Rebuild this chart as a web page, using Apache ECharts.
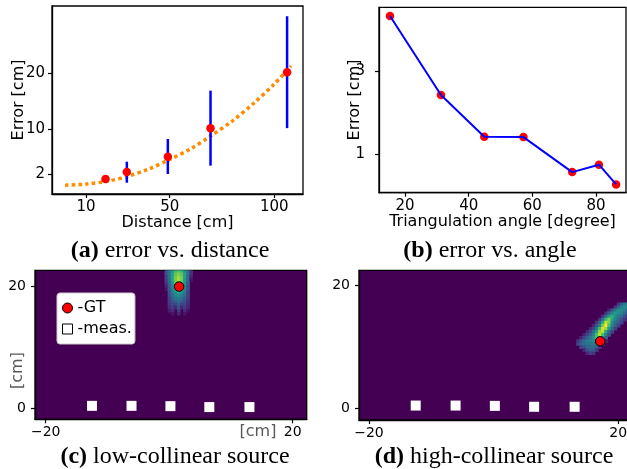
<!DOCTYPE html>
<html><head><meta charset="utf-8">
<script src="https://cdn.jsdelivr.net/npm/echarts@6/dist/echarts.min.js"></script>
<style>html,body{margin:0;padding:0;background:#fff}#c{width:627px;height:469px}</style>
</head><body><div id="c"></div>
<script>
// ---- (a) error vs. distance ----
const distX    = [19.3, 29.5, 49.1, 69.5, 106.1];
const distErr  = [1.1, 2.36, 5.1, 10.2, 20.2];
const distLow  = [0.8, 0.45, 2.0, 3.5, 10.2];
const distHigh = [1.4, 4.2, 8.26, 16.9, 30.2];
const fitX = [0, 10, 20, 30, 40, 50, 60, 70, 80, 90, 100, 108];
const fitY = [0, 0.2, 0.7, 1.6, 2.9, 4.6, 6.5, 8.9, 11.5, 14.6, 18.1, 21.3];
const aXTicks = [10, 50, 100];
const aYTicks = [2, 10, 20];
// ---- (b) error vs. angle ----
const angleX   = [15.3, 31.3, 44.9, 57.2, 72.5, 80.9, 86.3];
const angleErr = [4.35, 2.43, 1.42, 1.41, 0.56, 0.74, 0.26];
const bXTicks = [20, 40, 60, 80];
const bYTicks = [1, 3];
// ---- (c),(d) likelihood maps ----
const measX = [-12.5, -6.1, 0.2, 6.5, 13.0];
const measY = [0.4, 0.4, 0.35, 0.2, 0.2];
const gtC = [1.6, 19.9];
const gtD = [17.1, 10.9];
const mapXTicks = [-20, 20];
const mapYTicks = [0, 20];
const cCols = [-0.5, 0, 0.5, 1, 1.5, 2, 2.5, 3, 3.5];
const cRows = [22.5, 22, 21.5, 21, 20.5, 20, 19.5, 19, 18.5, 18, 17.5, 17, 16.5, 16, 15.5];
const cVals = [
  [0.25,0.4,0.55,0.68,0.72,0.68,0.55,0.4,0.15],
  [0.25,0.4,0.58,0.74,0.8,0.74,0.58,0.4,0.15],
  [0.2,0.38,0.58,0.78,0.85,0.78,0.58,0.35,0.1],
  [0.2,0.35,0.58,0.78,0.88,0.78,0.55,0.35,0.05],
  [0.15,0.33,0.52,0.74,0.85,0.74,0.52,0.3,0],
  [0.1,0.3,0.48,0.68,0.78,0.68,0.48,0.25,0],
  [0.05,0.28,0.45,0.6,0.7,0.6,0.45,0.25,0],
  [0,0.25,0.4,0.52,0.6,0.52,0.4,0.2,0],
  [0,0.22,0.35,0.45,0.5,0.45,0.35,0.2,0],
  [0,0.2,0.3,0.38,0.42,0.38,0.3,0.18,0],
  [0,0.18,0.25,0.3,0.35,0.3,0.25,0.15,0],
  [0,0.15,0.22,0.2,0.3,0.2,0.22,0.12,0],
  [0,0.12,0.18,0.1,0.25,0.1,0.18,0.1,0],
  [0,0.08,0.12,0,0.18,0,0.12,0.05,0],
  [0,0,0.06,0,0.1,0,0.06,0,0]
];
const dCols = [13.5, 14, 14.5, 15, 15.5, 16, 16.5, 17, 17.5, 18, 18.5, 19, 19.5, 20, 20.5, 21, 21.5];
const dRows = [17, 16.5, 16, 15.5, 15, 14.5, 14, 13.5, 13, 12.5, 12, 11.5, 11, 10.5, 10, 9.5, 9];
const dVals = [
  [0,0,0,0,0,0,0,0,0,0,0,0,0,0.15,0.3,0.4,0.45],
  [0,0,0,0,0,0,0,0,0,0,0,0,0.15,0.3,0.45,0.5,0.45],
  [0,0,0,0,0,0,0,0,0,0,0.1,0.25,0.4,0.5,0.5,0.45,0.35],
  [0,0,0,0,0,0,0,0,0,0.15,0.3,0.45,0.55,0.5,0.45,0.35,0.25],
  [0,0,0,0,0,0,0,0,0.15,0.35,0.55,0.65,0.5,0.4,0.35,0.25,0.15],
  [0,0,0,0,0,0,0,0.15,0.35,0.65,0.8,0.6,0.45,0.35,0.25,0.15,0],
  [0,0,0,0,0,0,0.15,0.3,0.6,0.9,0.8,0.5,0.35,0.3,0.2,0,0],
  [0,0,0,0,0,0.1,0.25,0.45,0.8,1.0,0.7,0.45,0.3,0.2,0,0,0],
  [0,0,0,0,0.1,0.2,0.4,0.7,0.95,0.85,0.55,0.35,0.2,0,0,0,0],
  [0,0,0,0.1,0.2,0.35,0.55,0.85,0.9,0.6,0.35,0.2,0,0,0,0,0],
  [0,0,0.1,0.2,0.3,0.45,0.7,0.9,0.7,0.45,0.25,0,0,0,0,0,0],
  [0,0.1,0.2,0.3,0.4,0.5,0.7,0.75,0.5,0.3,0,0,0,0,0,0,0],
  [0.15,0.25,0.35,0.4,0.45,0.5,0.55,0.5,0.3,0.1,0,0,0,0,0,0,0],
  [0.2,0.3,0.35,0.4,0.4,0.4,0.4,0.3,0.15,0,0,0,0,0,0,0,0],
  [0,0.2,0.25,0.35,0.35,0.35,0.3,0.15,0,0,0,0,0,0,0,0,0],
  [0,0,0.1,0.25,0.3,0.3,0.15,0,0,0,0,0,0,0,0,0,0],
  [0,0,0,0.1,0.2,0.15,0,0,0,0,0,0,0,0,0,0,0]
];

const FONT = 'DejaVu Sans';
const SERIF = 'Liberation Serif';
const viridis = ['#440154','#482878','#3e4989','#31688e','#26828e','#1f9e89','#35b779','#6ece58','#b5de2b','#fde725'];

function cells(cols, rows, vals) {
  const out = [];
  rows.forEach((y, i) => cols.forEach((x, j) => { if (vals[i][j] > 0) out.push([x, y, vals[i][j]]); }));
  return out;
}
function cellRender(params, api) {
  const x = api.value(0), y = api.value(1), h = 0.25;
  const a = api.coord([x - h, y + h]);
  const b = api.coord([x + h, y - h]);
  return { type: 'rect', shape: { x: a[0], y: a[1], width: b[0] - a[0] + 0.6, height: b[1] - a[1] + 0.6 },
           style: { fill: api.visual('color') } };
}
function errRender(params, api) {
  const x = api.value(0);
  const p1 = api.coord([x, api.value(1)]);
  const p2 = api.coord([x, api.value(2)]);
  return { type: 'line', shape: { x1: p1[0], y1: p1[1], x2: p2[0], y2: p2[1] },
           style: { stroke: '#0000ff', lineWidth: 2.5 } };
}
const minus = v => (v < 0 ? '\u2212' + Math.abs(v) : String(v));

function axis(o) {
  return {
    gridIndex: o.grid, type: 'value', min: o.min, max: o.max,
    axisLine: { show: true, onZero: false, lineStyle: { color: '#000', width: 1.3 } },
    splitLine: { show: false },
    axisTick: { show: true, inside: false, customValues: o.ticks, length: 4, lineStyle: { color: '#000', width: 1.2 } },
    axisLabel: { customValues: o.ticks, fontSize: o.fs, fontFamily: FONT, color: '#000', margin: o.margin, formatter: minus },
    name: o.name || '', nameLocation: 'middle', nameGap: o.gap || 0, nameRotate: o.rot,
    nameMoveOverlap: false,
    nameTextStyle: { fontSize: 16, fontFamily: FONT, color: '#000' }
  };
}
const gridBase = { show: true, borderColor: '#000', borderWidth: 1.3, outerBoundsMode: 'none', containLabel: false };

const chart = echarts.init(document.getElementById('c'), null, { renderer: 'canvas' });
chart.setOption({
  animation: false,
  backgroundColor: '#fff',
  grid: [
    Object.assign({ left: 52, top: 6, width: 251, height: 188, backgroundColor: 'transparent' }, gridBase),
    Object.assign({ left: 379, top: 7.3, width: 247, height: 185.4, backgroundColor: 'transparent' }, gridBase),
    Object.assign({ left: 35, top: 270.3, width: 271.7, height: 149, backgroundColor: '#440154' }, gridBase),
    Object.assign({ left: 359, top: 270.3, width: 273.4, height: 149.7, backgroundColor: '#440154' }, gridBase)
  ],
  xAxis: [
    axis({ grid: 0, min: -6.26, max: 113.7, ticks: aXTicks, fs: 15, margin: 6, name: 'Distance [cm]', gap: 21 }),
    axis({ grid: 1, min: 11.84, max: 89.4, ticks: bXTicks, fs: 15, margin: 6, name: 'Triangulation angle [degree]', gap: 21 }),
    axis({ grid: 2, min: -21.73, max: 22.27, ticks: mapXTicks, fs: 14, margin: 6 }),
    axis({ grid: 3, min: -21.6, max: 22.27, ticks: mapXTicks, fs: 14, margin: 6 })
  ],
  yAxis: [
    axis({ grid: 0, min: -1.57, max: 32.03, ticks: aYTicks, fs: 15, margin: 7, name: 'Error [cm]', gap: 25.5, rot: 90 }),
    axis({ grid: 1, min: 0.06, max: 4.56, ticks: bYTicks, fs: 15, margin: 14, name: 'Error [cm]', gap: 16, rot: 90 }),
    axis({ grid: 2, min: -1.8, max: 22.56, ticks: mapYTicks, fs: 14, margin: 9 }),
    axis({ grid: 3, min: -1.96, max: 22.5, ticks: mapYTicks, fs: 14, margin: 9 })
  ],
  visualMap: [{
    type: 'continuous', show: false, min: 0, max: 1, dimension: 2, seriesIndex: [5, 8],
    inRange: { color: viridis }
  }],
  legend: {
    left: 57, top: 293, orient: 'vertical', selectedMode: false,
    backgroundColor: '#fff', borderColor: '#cccccc', borderWidth: 1, borderRadius: 3,
    padding: [7, 3, 7, 5], itemGap: 5, itemWidth: 10, itemHeight: 10,
    textStyle: { fontFamily: FONT, fontSize: 16, color: '#000' },
    data: [
      { name: '-GT', icon: 'circle', itemStyle: { color: '#ff0000', borderColor: '#000', borderWidth: 1 } },
      { name: '-meas.', icon: 'rect', itemStyle: { color: '#fff', borderColor: '#000', borderWidth: 1 } }
    ]
  },
  series: [
    // (a)
    { name: 'fit', type: 'line', xAxisIndex: 0, yAxisIndex: 0, smooth: 0.3, symbol: 'none', silent: true, z: 2,
      data: fitX.map((x, i) => [x, fitY[i]]),
      lineStyle: { color: '#ff8c00', width: 3.5, type: [3.5, 3.2] } },
    { name: 'err', type: 'custom', xAxisIndex: 0, yAxisIndex: 0, silent: true, z: 3, renderItem: errRender,
      encode: { x: 0, y: [1, 2] },
      data: distX.map((x, i) => [x, distLow[i], distHigh[i]]) },
    { name: 'mean', type: 'scatter', xAxisIndex: 0, yAxisIndex: 0, silent: true, z: 4, symbolSize: 8.5,
      itemStyle: { color: '#ff0000', opacity: 1 },
      data: distX.map((x, i) => [x, distErr[i]]) },
    // (b)
    { name: 'angDots', type: 'scatter', xAxisIndex: 1, yAxisIndex: 1, silent: true, z: 3, symbolSize: 8.5,
      itemStyle: { color: '#ff0000', opacity: 1 },
      data: angleX.map((x, i) => [x, angleErr[i]]) },
    { name: 'angLine', type: 'line', xAxisIndex: 1, yAxisIndex: 1, silent: true, z: 4, symbol: 'none',
      lineStyle: { color: '#0000ff', width: 2 },
      data: angleX.map((x, i) => [x, angleErr[i]]) },
    // (c)
    { name: 'mapC', type: 'custom', xAxisIndex: 2, yAxisIndex: 2, silent: true, z: 2, clip: true,
      renderItem: cellRender, encode: { x: 0, y: 1 }, data: cells(cCols, cRows, cVals) },
    { name: '-meas.', type: 'scatter', xAxisIndex: 2, yAxisIndex: 2, silent: true, z: 3, symbol: 'rect', symbolSize: 10,
      itemStyle: { color: '#fff', opacity: 1 },
      data: measX.map((x, i) => [x, measY[i]]) },
    { name: '-GT', type: 'scatter', xAxisIndex: 2, yAxisIndex: 2, silent: true, z: 4, symbolSize: 9.5,
      itemStyle: { color: '#ff0000', borderColor: '#000', borderWidth: 1, opacity: 1 },
      data: [gtC] },
    // (d)
    { name: 'mapD', type: 'custom', xAxisIndex: 3, yAxisIndex: 3, silent: true, z: 2, clip: true,
      renderItem: cellRender, encode: { x: 0, y: 1 }, data: cells(dCols, dRows, dVals) },
    { name: 'measD', type: 'scatter', xAxisIndex: 3, yAxisIndex: 3, silent: true, z: 3, symbol: 'rect', symbolSize: 10,
      itemStyle: { color: '#fff', opacity: 1 },
      data: measX.map((x, i) => [x, measY[i]]) },
    { name: 'gtD', type: 'scatter', xAxisIndex: 3, yAxisIndex: 3, silent: true, z: 4, symbolSize: 9.5,
      itemStyle: { color: '#ff0000', borderColor: '#000', borderWidth: 1, opacity: 1 },
      data: [gtD] }
  ],
  graphic: [
    { type: 'text', x: 258, y: 432, silent: true,
      style: { text: '[cm]', fontFamily: FONT, fontSize: 16, fill: '#595959', align: 'center', verticalAlign: 'middle' } },
    { type: 'text', x: 18, y: 370.5, rotation: Math.PI / 2, silent: true,
      style: { text: '[cm]', fontFamily: FONT, fontSize: 16, fill: '#595959', align: 'center', verticalAlign: 'middle' } },
    { type: 'text', x: 170, y: 251, silent: true,
      style: { text: '{b|(a)}{n| error vs. distance}', align: 'center', verticalAlign: 'middle',
        rich: { b: { fontFamily: SERIF, fontSize: 24, fontWeight: 'bold', fill: '#000' }, n: { fontFamily: SERIF, fontSize: 24, fill: '#000' } } } },
    { type: 'text', x: 490, y: 251, silent: true,
      style: { text: '{b|(b)}{n| error vs. angle}', align: 'center', verticalAlign: 'middle',
        rich: { b: { fontFamily: SERIF, fontSize: 24, fontWeight: 'bold', fill: '#000' }, n: { fontFamily: SERIF, fontSize: 24, fill: '#000' } } } },
    { type: 'text', x: 175, y: 457, silent: true,
      style: { text: '{b|(c)}{n| low-collinear source}', align: 'center', verticalAlign: 'middle',
        rich: { b: { fontFamily: SERIF, fontSize: 24, fontWeight: 'bold', fill: '#000' }, n: { fontFamily: SERIF, fontSize: 24, fill: '#000' } } } },
    { type: 'text', x: 494, y: 457, silent: true,
      style: { text: '{b|(d)}{n| high-collinear source}', align: 'center', verticalAlign: 'middle',
        rich: { b: { fontFamily: SERIF, fontSize: 24, fontWeight: 'bold', fill: '#000' }, n: { fontFamily: SERIF, fontSize: 24, fill: '#000' } } } }
  ]
});
</script></body></html>
